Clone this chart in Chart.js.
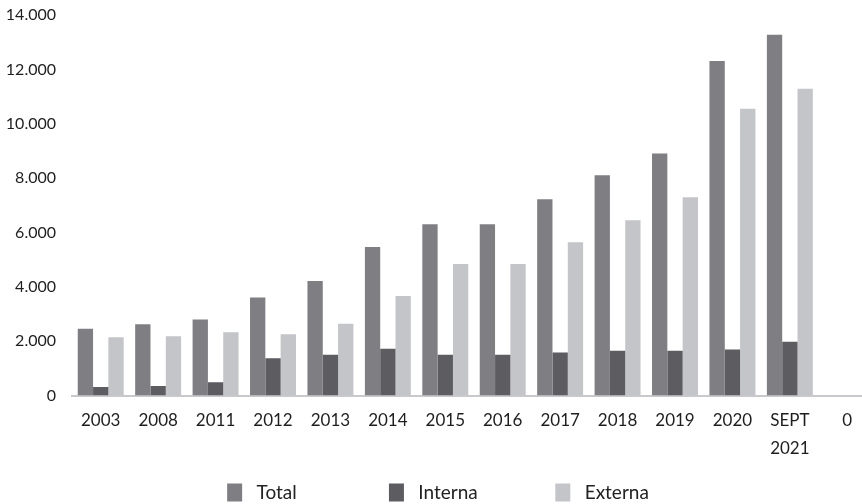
<!DOCTYPE html>
<html>
<head>
<meta charset="utf-8">
<script src="https://cdn.jsdelivr.net/npm/chart.js@4/dist/chart.umd.min.js"></script>
<style>
  html, body { margin: 0; padding: 0; background: #ffffff; overflow: hidden; width: 862px; height: 504px; }
  #wrap { position: absolute; left: 0; top: 0; width: 876px; height: 512px; }
</style>
</head>
<body>
<div id="wrap"><canvas id="c" width="876" height="512" style="width:876px;height:512px"></canvas></div>
<script>
// ---- data ----
const categories = ['2003', '2008', '2011', '2012', '2013', '2014', '2015', '2016', '2017', '2018', '2019', '2020', ['SEPT', '2021'], '0'];
const seriesNames = ['Total', 'Interna', 'Externa'];
const totalValues   = [2455, 2620, 2800, 3610, 4210, 5460, 6300, 6300, 7220, 8100, 8900, 12310, 13270, 0];
const internaValues = [310, 350, 490, 1370, 1500, 1720, 1500, 1500, 1580, 1650, 1650, 1690, 1980, 0];
const externaValues = [2140, 2180, 2330, 2250, 2640, 3660, 4840, 4840, 5640, 6450, 7290, 10550, 11290, 0];
const yTickMax = 14000;
const yTickStep = 2000;

const colors = ['#7f7e83', '#5d5c61', '#c4c5c9'];
// blank space around each legend entry (the reference spaces its legend entries widely)
const legendTrailingSpaces = [17, 14, 0];
const fmt = v => String(v).replace(/\B(?=(\d{3})+(?!\d))/g, '.');

new Chart(document.getElementById('c'), {
  type: 'bar',
  data: {
    labels: categories,
    datasets: [
      { label: seriesNames[0], data: totalValues, backgroundColor: colors[0] },
      { label: seriesNames[1], data: internaValues, backgroundColor: colors[1] },
      { label: seriesNames[2], data: externaValues, backgroundColor: colors[2] }
    ]
  },
  options: {
    responsive: false,
    animation: false,
    devicePixelRatio: 1,
    datasets: { bar: { categoryPercentage: 0.8, barPercentage: 1.0, borderWidth: 0 } },
    layout: { padding: 0 },
    plugins: {
      tooltip: { enabled: false },
      title: { display: false },
      legend: {
        position: 'bottom',
        align: 'center',
        labels: {
          boxWidth: 15,
          boxHeight: 18,
          padding: 9.5,
          color: '#222222',
          font: { family: 'Lato', size: 19 },
          generateLabels: chart => {
            const items = Chart.defaults.plugins.legend.labels.generateLabels(chart);
            items.forEach((it, i) => { it.text = ' ' + it.text + ' '.repeat(legendTrailingSpaces[i] || 0); });
            return items;
          }
        }
      }
    },
    scales: {
      x: {
        grid: { display: false, drawTicks: false },
        border: { display: true, color: '#c9c9cd', width: 2 },
        ticks: {
          color: '#1e1e1e',
          padding: 11.5,
          maxRotation: 0,
          autoSkip: false,
          font: { family: 'Lato', size: 17, lineHeight: '27.5px' }
        }
      },
      y: {
        min: 0,
        max: yTickMax,
        grid: { display: false, drawTicks: false },
        border: { display: false },
        ticks: {
          stepSize: yTickStep,
          color: '#1e1e1e',
          padding: 16,
          font: { family: 'Lato', size: 16 },
          callback: v => fmt(v)
        },
        afterFit: s => { s.width = 72; s.paddingTop = 15; s.paddingBottom = 0; }
      }
    }
  }
});
</script>
</body>
</html>
